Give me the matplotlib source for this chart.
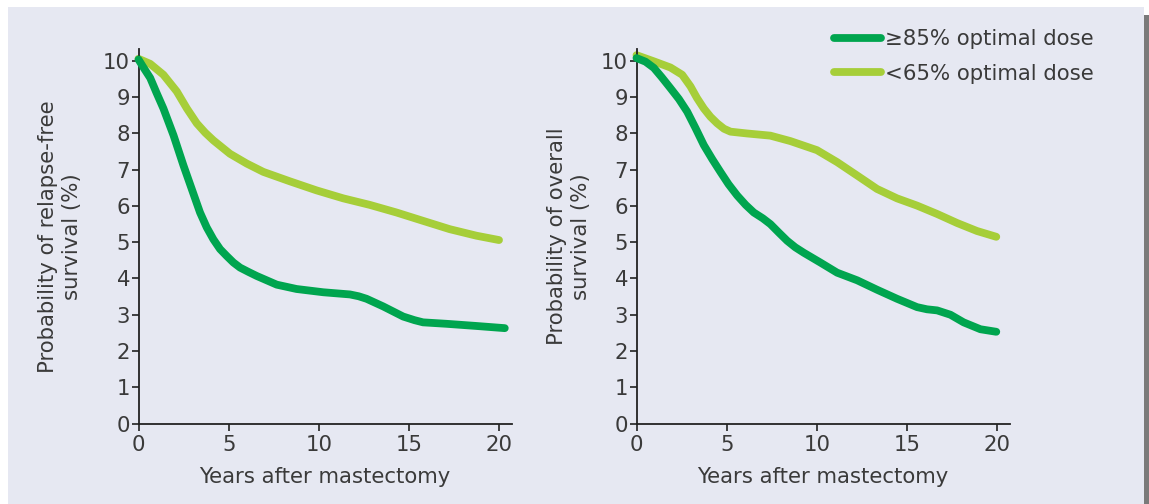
import matplotlib
matplotlib.use("Agg")
import matplotlib.pyplot as plt
from matplotlib.patches import Rectangle

# Relapse-free survival
rfs_years_high = [0, 0.3, 0.65, 1.0, 1.38, 1.94, 2.49, 2.95, 3.41, 3.78, 4.15, 4.52, 4.89, 5.26,
                  5.63, 6.1, 6.55, 7.66, 8.76, 10.24, 11.72, 12.2, 12.64, 13.56, 14.67, 15.3,
                  15.77, 17.07, 18.73, 20.3]
rfs_high = [10.04, 9.8, 9.53, 9.12, 8.69, 7.95, 7.12, 6.47, 5.82, 5.41, 5.08, 4.81, 4.62, 4.44,
            4.30, 4.18, 4.07, 3.83, 3.71, 3.62, 3.56, 3.51, 3.44, 3.23, 2.95, 2.85,
            2.79, 2.75, 2.69, 2.63]
rfs_years_low = [0, 0.65, 1.38, 2.12, 2.68, 3.23, 3.7, 4.15, 5.07, 6.0, 6.92, 8.39, 9.87, 11.35,
                 12.82, 14.3, 15.77, 17.25, 18.73, 19.98]
rfs_low = [10.06, 9.92, 9.62, 9.16, 8.69, 8.28, 8.02, 7.81, 7.44, 7.17, 6.94, 6.68, 6.43, 6.21,
           6.03, 5.82, 5.59, 5.36, 5.18, 5.06]

# Overall survival
os_years_high = [0, 0.5, 0.96, 1.4, 1.88, 2.35, 2.81, 3.27, 3.73, 4.2, 4.65, 5.1, 5.58, 6.05,
                 6.5, 7.0, 7.42, 7.9, 8.35, 8.8, 9.27, 10.19, 11.12, 12.23, 13.33, 14.44, 15.55,
                 16.1, 16.66, 17.4, 18.13, 19.06, 19.94]
os_high = [10.08, 9.98, 9.81, 9.55, 9.25, 8.95, 8.60, 8.15, 7.68, 7.29, 6.94, 6.60, 6.29, 6.03,
           5.82, 5.66, 5.50, 5.26, 5.04, 4.86, 4.71, 4.44, 4.16, 3.95, 3.69, 3.44, 3.21,
           3.15, 3.12, 3.0, 2.79, 2.60, 2.53]
os_years_low = [0, 0.96, 1.88, 2.53, 2.99, 3.35, 3.73, 4.1, 4.47, 4.85, 5.21, 6.13, 7.42, 8.53,
                10.0, 11.12, 12.23, 13.33, 14.44, 15.55, 16.66, 17.77, 18.87, 19.94]
os_low = [10.16, 9.99, 9.82, 9.62, 9.30, 8.98, 8.69, 8.46, 8.28, 8.13, 8.05, 8.0, 7.94, 7.79,
          7.54, 7.21, 6.84, 6.47, 6.21, 6.01, 5.78, 5.53, 5.31, 5.15]

x_ticks = [0, 5, 10, 15, 20]
y_ticks = list(range(0, 11))
series_labels = ["\u226585% optimal dose", "<65% optimal dose"]
x_title = "Years after mastectomy"
y_titles = ["Probability of relapse-free\nsurvival (%)", "Probability of overall\nsurvival (%)"]

DARK = "#00A54F"
LIGHT = "#A6CE39"
BG = "#E6E8F2"
INK = "#3a3a3a"
LW = 5.6
FS = 15.3

plt.rcParams["font.family"] = ["DejaVu Sans"]

W, H = 1149, 504
fig = plt.figure(figsize=(W / 100, H / 100), dpi=100)
fig.patch.set_facecolor("white")

# panel background and right-hand edge bar
fig.add_artist(Rectangle((8 / W, 0), (1144 - 8) / W, (H - 7) / H,
                         transform=fig.transFigure, facecolor=BG, edgecolor="none", zorder=0))
fig.add_artist(Rectangle((1144 / W, 0), 4.5 / W, (H - 15) / H,
                         transform=fig.transFigure, facecolor="#7a7a7a", edgecolor="none", zorder=0))

bottom = (H - 423.5) / H
height = (423.5 - 49) / H
ax1 = fig.add_axes([138.5 / W, bottom, 373.5 / W, height])
ax2 = fig.add_axes([636.5 / W, bottom, 373.5 / W, height])

panels = [
    (ax1, rfs_years_high, rfs_high, rfs_years_low, rfs_low, y_titles[0], -0.151),
    (ax2, os_years_high, os_high, os_years_low, os_low, y_titles[1], -0.122),
]

lines = []
for ax, xh, yh, xl, yl, ytitle, lx in panels:
    ax.set_facecolor("none")
    l1, = ax.plot(xh, yh, color=DARK, lw=LW, solid_capstyle="round",
                  solid_joinstyle="round", clip_on=False, zorder=3)
    l2, = ax.plot(xl, yl, color=LIGHT, lw=LW, solid_capstyle="round",
                  solid_joinstyle="round", clip_on=False, zorder=2)
    lines = [l1, l2]
    ax.set_xlim(0, 20.7)
    ax.set_ylim(0, 10.33)
    ax.set_xticks(x_ticks)
    ax.set_yticks(y_ticks)
    for s in ("top", "right"):
        ax.spines[s].set_visible(False)
    for s in ("left", "bottom"):
        ax.spines[s].set_color("#222222")
        ax.spines[s].set_linewidth(1.3)
    ax.tick_params(axis="both", direction="out", length=5, width=1.2, color="#222222",
                   labelcolor=INK, labelsize=FS, pad=1)
    ax.tick_params(axis="x", pad=3)
    ax.set_xlabel(x_title, fontsize=FS, color=INK, labelpad=9)
    ax.set_ylabel(ytitle, fontsize=FS, color=INK, linespacing=1.25)
    ax.yaxis.set_label_coords(lx, 0.5)

leg = ax2.legend(lines, series_labels, loc="upper left",
                 bbox_to_anchor=(834 / W, (H - 29) / H), bbox_transform=fig.transFigure,
                 frameon=False, fontsize=FS, handlelength=2.2, handletextpad=0.2,
                 labelspacing=0.7, borderpad=0, borderaxespad=0)
for t in leg.get_texts():
    t.set_color(INK)
for h in leg.get_lines():
    h.set_linewidth(LW)
    h.set_solid_capstyle("round")

fig.savefig("out.png", dpi=100, facecolor=fig.get_facecolor())
